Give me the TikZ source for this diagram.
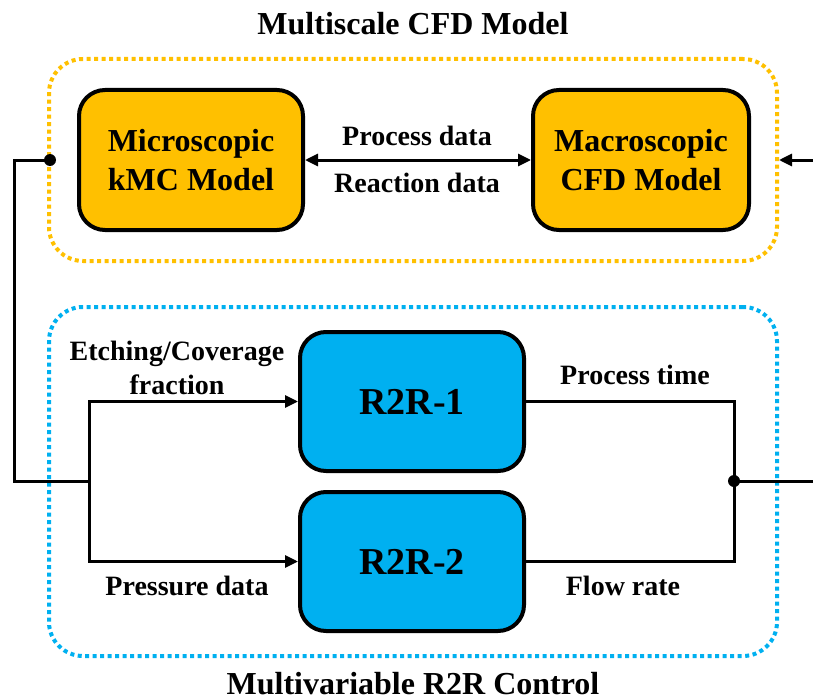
\documentclass[tikz,border=0pt]{standalone}
\usepackage{fontspec}
\setmainfont{Liberation Serif}
\usetikzlibrary{positioning,arrows.meta}
\definecolor{cfdorange}{HTML}{FFC000}
\definecolor{rtrblue}{HTML}{00B0F0}

\tikzset{
  model/.style={draw=black, line width=4pt, rounded corners=26pt, fill=cfdorange,
    minimum width=224pt, minimum height=140pt, inner sep=0pt, align=center,
    font=\fontsize{32}{39}\selectfont\bfseries},
  ctrl/.style={model, fill=rtrblue, minimum height=139pt,
    font=\fontsize{38}{44}\selectfont\bfseries},
  group/.style={line width=4pt, dash pattern=on 4pt off 3.5pt,
    rounded corners=34pt, minimum width=728pt, inner sep=0pt},
  lbl/.style={font=\fontsize{28}{34}\selectfont\bfseries, align=center},
  title/.style={font=\fontsize{32}{38}\selectfont\bfseries},
  wire/.style={line width=3pt},
  joint/.style={circle, fill=black, inner sep=0pt, minimum size=12pt},
}

\begin{document}
\begin{tikzpicture}[x=1pt, y=-1pt, >={Triangle[length=13pt,width=12pt]}]
  \useasboundingbox (0,0) rectangle (813,698);
  % dotted frames
  \node[group, draw=cfdorange, minimum height=202pt] (cfd) at (413,160) {};
  \node[group, draw=rtrblue, minimum height=349pt] (r2r) at (413,481.5) {};
  \node[title, anchor=base] (cfdtitle) at (413,35) {Multiscale CFD Model};
  \node[title, anchor=base, inner sep=0pt] (r2rtitle) at (413,694) {Multivariable R2R Control};

  % multiscale model
  \node[model] (micro) at (191,160) {Microscopic\\kMC Model};
  \node[model, minimum width=216pt] (macro) at (641,160) {Macroscopic\\CFD Model};
  \draw[wire,<->] (micro) -- (macro);
  \node[lbl, anchor=base] (pdata) at (417,145) {Process data};
  \node[lbl, anchor=base] (rdata) at (417,192) {Reaction data};

  % controllers
  \node[ctrl] (rtr1) at (412,401.5) {R2R-1};
  \node[ctrl] (rtr2) at (412,561.5) {R2R-2};

  % inputs
  \node[joint] (tap) at (50,160) {};
  \coordinate (fork) at (89,481);
  \draw[wire] (tap.center) -- ++(-36,0) |- (fork);
  \draw[wire,->] (fork) |- (rtr1.west);
  \draw[wire,->] (fork) |- (rtr2.west);
  \node[lbl] (ecf) at (177,368) {Etching/Coverage\\fraction};
  \node[lbl, anchor=base] (pres) at (187,595) {Pressure data};

  % outputs
  \coordinate (merge) at (734,481);
  \draw[wire] (rtr1.east) -| (merge) |- (rtr2.east);
  \node[joint] (out) at (merge) {};
  \coordinate (outend) at (813,481);
  \draw[wire] (out.center) -- (outend);
  \node[lbl, anchor=base] (ptime) at (635,384) {Process time};
  \node[lbl, anchor=base] (flow) at (623,595) {Flow rate};

  % feedback into the CFD model
  \coordinate (inend) at (813,160);
  \draw[wire,->] (inend) -- (cfd.east);
\end{tikzpicture}
\end{document}
